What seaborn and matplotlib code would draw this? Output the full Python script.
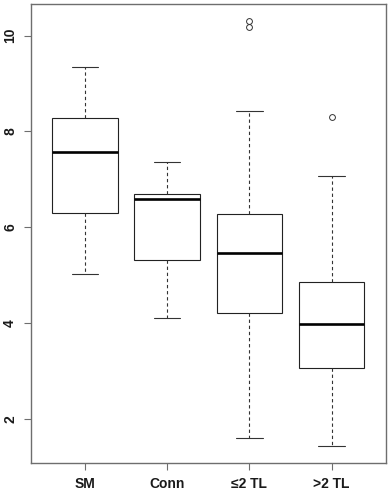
import matplotlib
matplotlib.use("Agg")
import matplotlib.pyplot as plt
import seaborn as sns
import pandas as pd

# box summary: lower whisker, Q1, median, Q3, upper whisker, outliers
groups = ["SM", "Conn", "≤2 TL", ">2 TL"]
whisker_low = [5.02, 4.11, 1.61, 1.43]
q1 = [6.29, 5.32, 4.22, 3.07]
median = [7.57, 6.59, 5.46, 3.98]
q3 = [8.28, 6.70, 6.28, 4.85]
whisker_high = [9.35, 7.36, 8.42, 7.07]
outliers = [[], [], [10.19, 10.31], [8.31]]

# build a small sample per group whose quartiles / whiskers give exactly these boxes
rows = []
K = 10
for g, lo, a, m, b, hi, outs in zip(groups, whisker_low, q1, median, q3, whisker_high, outliers):
    vals = [lo] * (1 + len(outs)) + [a] * K + [m] + [b] * K + [hi] + outs
    rows += [{"group": g, "value": v} for v in vals]
df = pd.DataFrame(rows)

sns.set_theme(style="white")
plt.rcParams['font.family'] = ['Liberation Sans', 'DejaVu Sans']

fig = plt.figure(figsize=(3.89, 4.94), dpi=100)
ax = fig.add_axes([0.0797, 0.0634, 0.9118, 0.9285])

sns.boxplot(data=df, x="group", y="value", order=groups, ax=ax,
            width=0.8, whis=1.5, color="white", linecolor="#222222", linewidth=0.8,
            capwidths=0.32,
            medianprops=dict(color="black", linewidth=1.9),
            whiskerprops=dict(color="#333333", linewidth=0.8, linestyle=(0, (3, 2.5))),
            capprops=dict(color="#333333", linewidth=0.8),
            flierprops=dict(marker="o", markersize=4.2, markerfacecolor="none",
                            markeredgecolor="#333333", markeredgewidth=0.7))

ax.set_xlim(-0.66, 3.66)
ax.set_ylim(1.09, 10.66)
ax.set_yticks([2, 4, 6, 8, 10])
ax.set_xlabel("")
ax.set_ylabel("")
for s in ax.spines.values():
    s.set_visible(True)
    s.set_color("#6e6e6e")
    s.set_linewidth(1.0)
ax.tick_params(axis="both", which="both", length=5, width=0.8, color="#6e6e6e",
               labelsize=10, labelcolor="#1a1a1a", pad=5, left=True, bottom=True)
plt.setp(ax.get_yticklabels(), rotation=90, va="center", fontweight="bold")
plt.setp(ax.get_xticklabels(), fontweight="bold")

plt.savefig("out.png", dpi=100)
